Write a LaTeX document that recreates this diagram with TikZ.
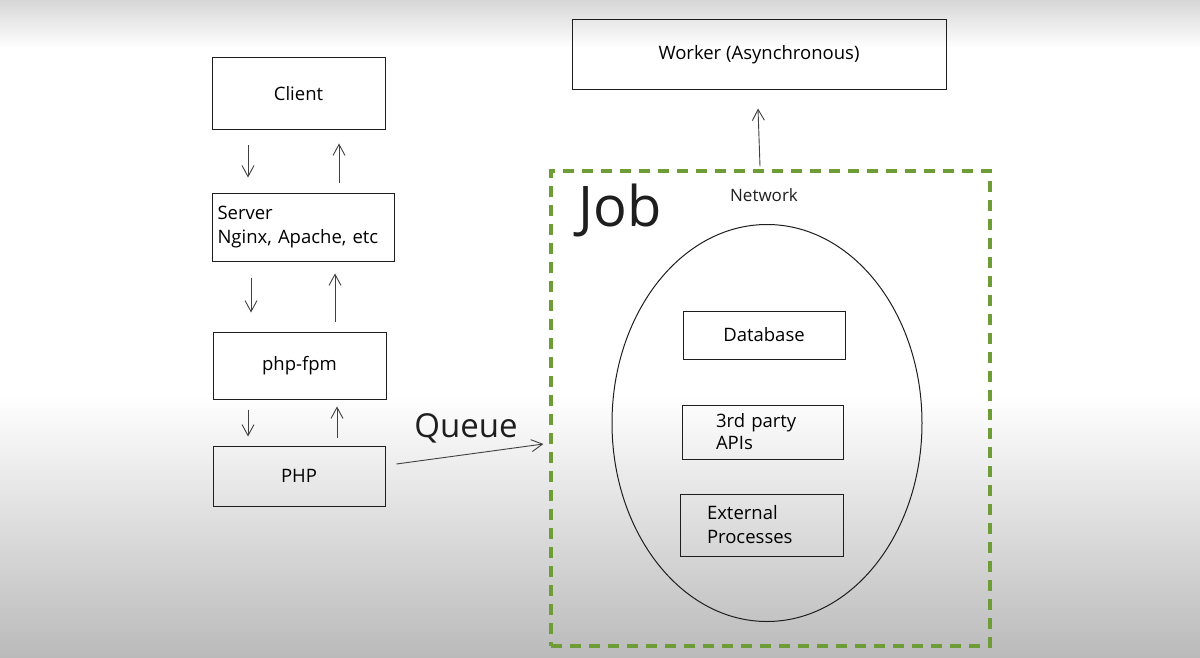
\documentclass[tikz,border=0pt]{standalone}
\usepackage{fontspec}
\setmainfont{Open Sans}
\usetikzlibrary{arrows.meta,shapes.geometric,calc}
\definecolor{jobgreen}{HTML}{6E9C37}
\definecolor{ink}{HTML}{1E1E1E}
\begin{document}
\begin{tikzpicture}[x=1pt,y=-1pt,
  box/.style={draw=ink,line width=1pt,rectangle,inner sep=0pt,font=\fontsize{18.5}{24}\selectfont},
  arr/.style={draw=ink!85,line width=0.9pt,-{Straight Barb[length=11pt,width=12pt,line width=0.9pt]}},
  lbl/.style={inner sep=0pt,text=ink}]
\useasboundingbox (0,0) rectangle (1200,658);
% background
\fill[white] (0,0) rectangle (1200,658);
\shade[top color=black!16,bottom color=white] (0,0) rectangle (1200,48);
\shade[top color=white,bottom color=black!27] (0,395) rectangle (1200,658);
% left column
\node[box,minimum width=173pt,minimum height=72pt] (client) at (298.5,94) {Client};
\node[box,minimum width=179pt,minimum height=67pt,text width=172pt,inner xsep=5pt,align=left] (server) at (303.5,227.5) {Server\\Nginx, Apache, etc};
\node[box,minimum width=173pt,minimum height=67pt] (fpm) at (299.5,365.5) {php-fpm};
\node[box,minimum width=172pt,minimum height=60pt] (php) at (299,476) {PHP};
% right side
\node[box,minimum width=374pt,minimum height=70pt] (worker) at (759,55) {Worker (Asynchronous)};
\node[draw=jobgreen,line width=3.2pt,dash pattern=on 11pt off 8pt,rectangle,minimum width=439pt,minimum height=475pt] (job) at (770.5,408.5) {};
\node[draw=ink,line width=1pt,ellipse,minimum width=310pt,minimum height=397pt] (net) at (767,423) {};
\node[lbl,font=\fontsize{17}{20}\selectfont] (netlbl) at (764,195) {Network};
\node[lbl,font=\fontsize{56}{60}\selectfont] (joblbl) at (620,210) {Job};
\node[box,minimum width=162pt,minimum height=48pt] (db) at (764,335) {Database};
\node[box,minimum width=161pt,minimum height=54pt,text width=145pt,align=left,inner xsep=8pt,font=\fontsize{18.5}{22}\selectfont] (api) at (762.5,432) {\hspace*{26pt}3rd party\\\hspace*{26pt}APIs};
\node[box,minimum width=163pt,minimum height=62pt,text width=147pt,align=left,inner xsep=8pt,font=\fontsize{18.5}{24}\selectfont] (ext) at (761.5,525) {\hspace*{19pt}External\\\hspace*{19pt}Processes};
\node[lbl,font=\fontsize{33}{36}\selectfont] (queue) at (466,428) {Queue};
% arrows
\draw[arr] ([xshift=-50.5pt,yshift=-15pt]client.south) -- ([xshift=-55.5pt,yshift=16pt]server.north);
\draw[arr] ([xshift=35.5pt,yshift=10pt]server.north) -- ([xshift=40.5pt,yshift=-13pt]client.south);
\draw[arr] ([xshift=-52.5pt,yshift=-16pt]server.south) -- ([xshift=-48.5pt,yshift=19pt]fpm.north);
\draw[arr] ([xshift=35.5pt,yshift=10pt]fpm.north) -- ([xshift=31.5pt,yshift=-12pt]server.south);
\draw[arr] ([xshift=-51.5pt,yshift=-10pt]fpm.south) -- ([xshift=-51pt,yshift=9pt]php.north);
\draw[arr] ([xshift=38pt,yshift=8pt]php.north) -- ([xshift=37.5pt,yshift=-7pt]fpm.south);
\draw[arr] ([xshift=11pt,yshift=12pt]php.east) -- ([xshift=-6pt,yshift=-35.5pt]job.west);
\draw[arr] ([xshift=-10.5pt,yshift=3pt]job.north) -- ([xshift=-1pt,yshift=-18pt]worker.south);
\end{tikzpicture}
\end{document}
